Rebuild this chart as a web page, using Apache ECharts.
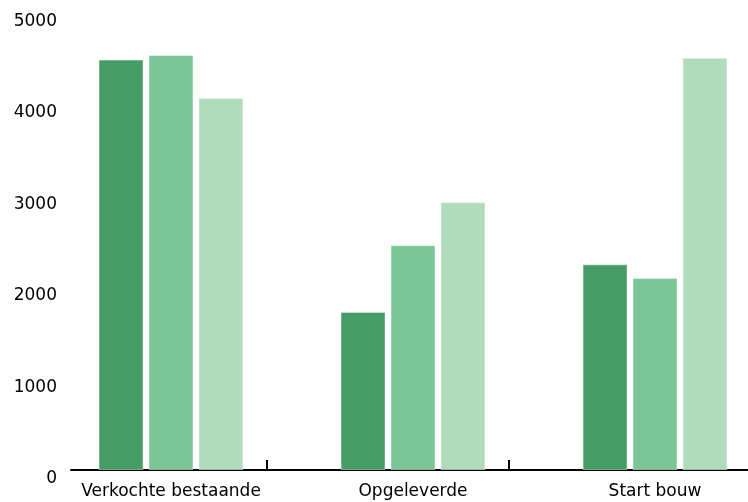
<!DOCTYPE html>
<html>
<head>
<meta charset="utf-8">
<style>
  html, body { margin: 0; padding: 0; background: #ffffff; }
  #chart { width: 748px; height: 502px; }
</style>
<script src="https://cdn.jsdelivr.net/npm/echarts@6/dist/echarts.min.js"></script>
</head>
<body>
<div id="chart"></div>
<script>
// Categories along the x axis
const categories = ['Verkochte bestaande', 'Opgeleverde', 'Start bouw'];

// Three series, darkest to lightest green
const reeks1 = [4490, 1730, 2250];
const reeks2 = [4540, 2460, 2100];
const reeks3 = [4070, 2930, 4510];

const seriesNames = ['Reeks 1', 'Reeks 2', 'Reeks 3'];
const seriesColors = ['#469c65', '#7ac795', '#b0dcbb'];

// Y axis range and step
const yMin = 0;
const yMax = 5000;
const yStep = 1000;

const font = 'DejaVu Sans, Verdana, sans-serif';
const chart = echarts.init(document.getElementById('chart'), null, { renderer: 'canvas' });

const values = [reeks1, reeks2, reeks3];

chart.setOption({
  animation: false,
  backgroundColor: '#ffffff',
  grid: [
    // bars
    { left: 50, width: 726, top: 13, bottom: 32, outerBoundsMode: 'none', containLabel: false },
    // baseline and value labels
    { left: 71, right: 0, top: 13, bottom: 32, outerBoundsMode: 'none', containLabel: false },
    // separator ticks between groups
    { left: 25, width: 726, top: 13, bottom: 32, outerBoundsMode: 'none', containLabel: false }
  ],
  xAxis: [
    {
      gridIndex: 0,
      type: 'category',
      data: categories,
      axisLine: { show: false },
      axisTick: { show: false },
      axisLabel: {
        color: '#000', fontFamily: font, fontSize: 17, margin: 13,
        interval: 0, hideOverlap: false
      }
    },
    {
      gridIndex: 1,
      type: 'value',
      min: 0,
      max: 1,
      axisLine: { show: true, lineStyle: { color: '#000', width: 2 } },
      axisTick: { show: false },
      axisLabel: { show: false },
      splitLine: { show: false }
    },
    {
      gridIndex: 2,
      type: 'category',
      data: categories,
      axisLine: { show: false },
      axisTick: {
        show: true,
        inside: true,
        length: 10,
        interval: function (index) { return index > 0; },
        lineStyle: { color: '#000', width: 2 }
      },
      axisLabel: { show: false }
    }
  ],
  yAxis: [
    {
      gridIndex: 0, type: 'value', min: yMin, max: yMax, interval: yStep,
      show: false
    },
    {
      gridIndex: 1, type: 'value', min: yMin, max: yMax, interval: yStep,
      axisLine: { show: false },
      axisTick: { show: false },
      splitLine: { show: false },
      axisLabel: {
        color: '#000', fontFamily: font, fontSize: 17, margin: 14,
        verticalAlign: 'top',
        formatter: function (v) { return String(v); }
      }
    },
    {
      gridIndex: 2, type: 'value', min: yMin, max: yMax, interval: yStep,
      show: false
    }
  ],
  series: values.map(function (data, i) {
    return {
      name: seriesNames[i],
      type: 'bar',
      xAxisIndex: 0,
      yAxisIndex: 0,
      data: data,
      barWidth: 45,
      barGap: '11%',
      itemStyle: {
        color: seriesColors[i],
        borderColor: 'rgba(255,255,255,0.45)',
        borderWidth: 1
      }
    };
  })
});
</script>
</body>
</html>
